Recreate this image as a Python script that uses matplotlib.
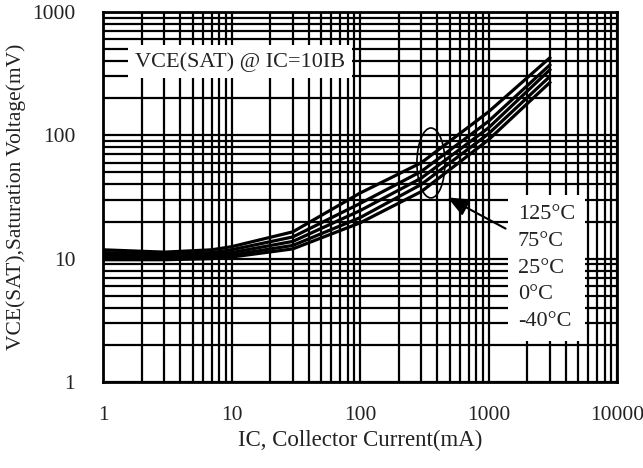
import matplotlib
matplotlib.use("Agg")
import matplotlib.pyplot as plt
from matplotlib.patches import Ellipse
from matplotlib.ticker import LogLocator, FixedLocator, NullFormatter

plt.rcParams['font.family'] = ['Liberation Serif', 'DejaVu Serif']

# Data (mV vs mA)
ic = [1, 3, 7, 10, 30, 100, 300, 1000, 3000]
v_125 = [11.8, 11.3, 11.8, 12.5, 16.5, 34, 60, 155, 425]
v_75 = [11.2, 10.9, 11.2, 11.8, 15.0, 28, 51, 130, 372]
v_25 = [10.7, 10.5, 10.8, 11.2, 13.8, 24.5, 45, 115, 340]
v_0 = [10.2, 10.1, 10.4, 10.7, 12.8, 21.5, 40, 103, 300]
v_m40 = [9.8, 9.8, 10.0, 10.3, 12.0, 19.5, 35, 92, 268]
series = [v_125, v_75, v_25, v_0, v_m40]
temp_labels = ["125°C", "75°C", "25°C", "0°C", "-40°C"]

x_ticks = [1, 10, 100, 1000, 10000]
x_tick_labels = ["1", "10", "100", "1000", "10000"]
y_ticks = [1, 10, 100, 1000]
y_tick_labels = ["1", "10", "100", "1000"]

fig = plt.figure(figsize=(6.43, 4.68), dpi=100)
ax = fig.add_axes([103/643, 1-382/468, 514/643, 370/468])
ax.set_xscale('log')
ax.set_yscale('log')
ax.set_xlim(1, 10000)
ax.set_ylim(1, 1000)

ax.xaxis.set_major_locator(FixedLocator(x_ticks))
ax.set_xticklabels(x_tick_labels)
ax.yaxis.set_major_locator(FixedLocator(y_ticks))
ax.set_yticklabels(y_tick_labels)
ax.xaxis.set_minor_locator(LogLocator(base=10, subs=range(2, 10)))
ax.yaxis.set_minor_locator(LogLocator(base=10, subs=range(2, 10)))
ax.xaxis.set_minor_formatter(NullFormatter())
ax.yaxis.set_minor_formatter(NullFormatter())
ax.tick_params(which='both', length=0, labelsize=15.5, colors='#222222')
ax.tick_params(axis='x', pad=17)
ax.tick_params(axis='y', pad=20)
# keep the last x label inside the figure
ax.get_xticklabels()[-1].set_horizontalalignment('center')

ax.grid(True, which='both', color='black', linewidth=1.6)
ax.set_axisbelow(True)
for s in ax.spines.values():
    s.set_linewidth(2)
    s.set_color('black')

for v in series:
    ax.plot(ic, v, color='black', linewidth=2.3, zorder=3)

ax.set_xlabel("IC, Collector Current(mA)", fontsize=16.5, color='#222222', labelpad=4)
ax.set_ylabel("VCE(SAT),Saturation Voltage(mV)", fontsize=15.5, color='#222222', labelpad=4)

ax.text(0.062, 0.865, "VCE(SAT) @ IC=10IB", transform=ax.transAxes, fontsize=16,
        color='#222222', va='center', ha='left', zorder=5,
        bbox=dict(boxstyle='square,pad=0.3', facecolor='white', edgecolor='none'))

ax.text(0.807, 0.308, "\n".join(temp_labels), transform=ax.transAxes, fontsize=16,
        color='#222222', va='center', ha='left', linespacing=1.55, zorder=5,
        bbox=dict(boxstyle='square,pad=0.45', facecolor='white', edgecolor='none'))

ell = Ellipse((0.638, 0.592), 0.0545, 0.189, transform=ax.transAxes, fill=False,
              edgecolor='black', linewidth=1.2, zorder=4)
ax.add_patch(ell)

ax.annotate("", xy=(459, 32.2), xytext=(1419, 17.1),
            arrowprops=dict(arrowstyle='-|>,head_length=1.3,head_width=0.55',
                            color='black', linewidth=1.5), zorder=4)

fig.canvas.draw()
lbl = ax.get_xticklabels()[-1]
fig.savefig("out.png", dpi=100)
